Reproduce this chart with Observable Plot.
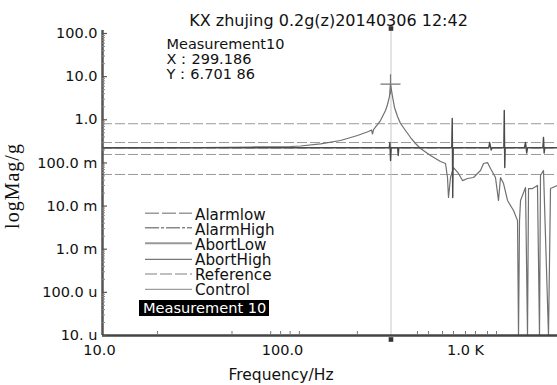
<!DOCTYPE html>
<html><head><meta charset="utf-8">
<script src="https://cdn.jsdelivr.net/npm/d3@7"></script>
<script src="https://cdn.jsdelivr.net/npm/@observablehq/plot@0.6"></script>
<style>body{margin:0;background:#fff}</style>
</head><body><div id="chart"></div>
<script>
const titleText = "KX zhujing 0.2g(z)20140306 12:42";
const cursorLines = ["Measurement10", "X：299.186", "Y：6.701 86"];
const xTicks = [10, 100, 1000];
const xTickLabels = ["10.0", "100.0", "1.0 K"];
const yTicks = [100, 10, 1, 0.1, 0.01, 0.001, 0.0001, 0.00001];
const yTickLabels = ["100.0", "10.0", "1.0", "100.0 m", "10.0 m", "1.0 m", "100.0 u", "10. u"];
const xMinorTicks = [20, 51, 83, 94, 106, 119, 247, 526, 604, 721, 828, 963, 1092, 1270, 1422];

const limitNames = ["AbortHigh", "AlarmHigh", "Reference", "AlarmLow", "AbortLow"];
const limitValues = [0.81, 0.297, 0.22, 0.157, 0.054];

const legendNames = ["Alarmlow", "AlarmHigh", "AbortLow", "AbortHigh", "Reference", "Control"];
const measurementName = "Measurement 10";
const xLabel = "Frequency/Hz";
const yLabel = "logMag/g";

const measFreq = [10, 18.3, 34.3, 64.4, 106.5, 120.8, 155.4, 199.7, 247.4, 284.1, 295.1, 298.9, 302.7, 330.4, 351.9, 360.9, 370.1, 374.8, 384.3, 394.1, 409.3, 425, 452.6, 482.1, 513.3, 546.7, 619.9, 703.1, 748.6, 767.7, 777.5, 797.3, 827.9, 881.9, 927.4, 987.4, 1065, 1163, 1208, 1270, 1319, 1404, 1458, 1496, 1554, 1634, 1696, 1762, 1853, 1876, 1900, 1924, 2049, 2101, 2128, 2237, 2382, 2443, 2474, 2569, 2736, 2806, 3064];
const measVal = [0.224, 0.224, 0.228, 0.234, 0.240, 0.247, 0.277, 0.331, 0.432, 0.535, 0.58, 0.468, 0.595, 0.962, 1.64, 2.26, 3.47, 6.70, 3.47, 1.93, 1.19, 0.82, 0.565, 0.388, 0.282, 0.216, 0.149, 0.108, 0.097, 0.046, 0.0158, 0.046, 0.078, 0.057, 0.039, 0.0435, 0.046, 0.0667, 0.097, 0.102, 0.0743, 0.046, 0.0135, 0.046, 0.0333, 0.0135, 0.0103, 0.0079, 0.0046, 0.00001, 0.0046, 0.0135, 0.0269, 0.00001, 0.0255, 0.0255, 0.030, 0.00001, 0.051, 0.0667, 0.00001, 0.0255, 0.030];

const ctrlFreq = [10, 369, 372, 375, 378, 410, 413, 416, 810, 815, 820, 825, 1290, 1305, 1330, 1345, 1560, 1568, 1578, 1586, 2020, 2049, 2080, 2101, 2550, 2569, 2590, 2610, 3064];
const ctrlVal = [0.224, 0.224, 0.297, 0.114, 0.224, 0.224, 0.149, 0.224, 0.224, 1.07, 0.0158, 0.224, 0.224, 0.297, 0.2, 0.224, 0.224, 1.64, 0.078, 0.224, 0.224, 0.30, 0.17, 0.224, 0.224, 0.388, 0.17, 0.224, 0.224];

const cursorFreq = 377;
const peak = [{f: 374.8, v: 6.70}];

const meas = measFreq.map((f, i) => ({f, v: measVal[i]}));
const ctrl = ctrlFreq.map((f, i) => ({f, v: ctrlVal[i]}));
const limits = limitNames.map((n, i) => ({n, v: limitValues[i]}));
const yMinorTicks = [];
for (let e = -5; e < 2; e++) for (let m = 2; m < 10; m++) yMinorTicks.push(m * Math.pow(10, e));

const W = 557, H = 385, mL = 102, mT = 33, mB = 50;
const frameW = W - mL, frameH = H - mT - mB;
const FONT = "DejaVu Sans";

const plot = Plot.plot({
  width: W, height: H,
  marginLeft: mL, marginRight: 0, marginTop: mT, marginBottom: mB,
  style: {fontFamily: FONT, background: "#fff", overflow: "visible", color: "#000"},
  x: {type: "log", domain: [10, 3064], axis: null},
  y: {type: "log", domain: [1e-5, 100], axis: null},
  marks: [
    Plot.ruleY(limits, {y: "v", stroke: "#9a9a9a", strokeWidth: 1, strokeDasharray: "10,3"}),
    Plot.ruleX([cursorFreq], {stroke: "#c8c8c8", strokeWidth: 1, insetTop: -6}),
    Plot.line(meas, {x: "f", y: "v", stroke: "#707070", strokeWidth: 1.2}),
    Plot.line(ctrl, {x: "f", y: "v", stroke: "#4a4a4a", strokeWidth: 1.4}),
    Plot.dot(peak, {x: "f", y: "v", symbol: "plus", r: 6.5, stroke: "#777", strokeWidth: 1.2}),
    Plot.dot([cursorFreq], {x: d => d, y: () => 100, symbol: "square", r: 2.6, fill: "#333", dy: -5}),
    Plot.dot([cursorFreq], {x: d => d, y: () => 1e-5, symbol: "square", r: 2.6, fill: "#333", dy: 4}),
    // axis lines
    Plot.ruleX([10], {stroke: "#555", strokeWidth: 2.5, insetTop: -3}),
    Plot.ruleY([1e-5], {stroke: "#444", strokeWidth: 2.5}),
    // ticks
    Plot.tickY(yTicks, {y: d => d, insetRight: frameW - 5, stroke: "#555", strokeWidth: 1.2}),
    Plot.tickY(yMinorTicks, {y: d => d, insetRight: frameW - 3, stroke: "#888"}),
    Plot.tickX(xMinorTicks, {x: d => d, insetTop: frameH - 4, stroke: "#777"}),
    // tick labels
    Plot.text(yTicks, {y: d => d, text: (d, i) => yTickLabels[i], frameAnchor: "left", textAnchor: "end",
      dx: -5, lineAnchor: "middle", fontSize: 14.5, fontFamily: FONT, fill: "#111"}),
    Plot.text(xTicks, {x: d => d, text: (d, i) => xTickLabels[i], frameAnchor: "bottom", textAnchor: "middle",
      dx: -3, dy: 9, lineAnchor: "top", fontSize: 14.5, fontFamily: FONT, fill: "#111"}),
    // title
    Plot.text([titleText], {frameAnchor: "top", dx: -1.5, dy: -19, lineAnchor: "top",
      fontSize: 16, fontFamily: FONT, fill: "#111"}),
    // cursor readout
    Plot.text([cursorLines.join("\n")], {frameAnchor: "top-left", textAnchor: "start", dx: 64, dy: 5.3,
      lineAnchor: "top", lineHeight: 1.03, fontSize: 14.5, fontFamily: FONT, fill: "#111"}),
    // x axis title
    Plot.text([xLabel], {frameAnchor: "bottom", dx: -49, dy: 33, lineAnchor: "top",
      fontSize: 15.5, fontFamily: FONT, fill: "#111"})
  ]
});

const svg = d3.select(plot);
// y axis title
svg.append("text").attr("transform", "translate(19,186) rotate(-90)")
  .attr("text-anchor", "middle").attr("font-family", "Liberation Serif").attr("font-size", 20)
  .attr("letter-spacing", 1).attr("fill", "#111").text(yLabel);

// legend
const lg = svg.append("g").attr("text-anchor", "start");
const legendStyles = [
  {stroke: "#9a9a9a", w: 1.4, dash: "14,3"},
  {stroke: "#888", w: 1.4, dash: "14,2,3,2"},
  {stroke: "#999", w: 2, dash: null},
  {stroke: "#777", w: 1.2, dash: null},
  {stroke: "#aaa", w: 1.6, dash: "12,3"},
  {stroke: "#888", w: 1, dash: null}
];
const legendLineY = [213.3, 227.8, 243.3, 259.3, 274, 289.3];
const legendTextY = [220, 234.8, 249.8, 265.2, 280, 295];
legendNames.forEach((n, i) => {
  const s = legendStyles[i];
  lg.append("line").attr("x1", 145).attr("x2", 192).attr("y1", legendLineY[i]).attr("y2", legendLineY[i])
    .attr("stroke", s.stroke).attr("stroke-width", s.w).attr("stroke-dasharray", s.dash);
  lg.append("text").attr("x", 195).attr("y", legendTextY[i]).text(n)
    .attr("font-family", FONT).attr("font-size", 15.2).attr("fill", "#111");
});
lg.append("rect").attr("x", 139).attr("y", 300).attr("width", 130).attr("height", 16).attr("fill", "#000");
lg.append("text").attr("x", 143).attr("y", 313).text(measurementName)
  .attr("font-family", FONT).attr("font-size", 14.6).attr("fill", "#fff");

document.getElementById("chart").appendChild(plot);
</script>
</body></html>
